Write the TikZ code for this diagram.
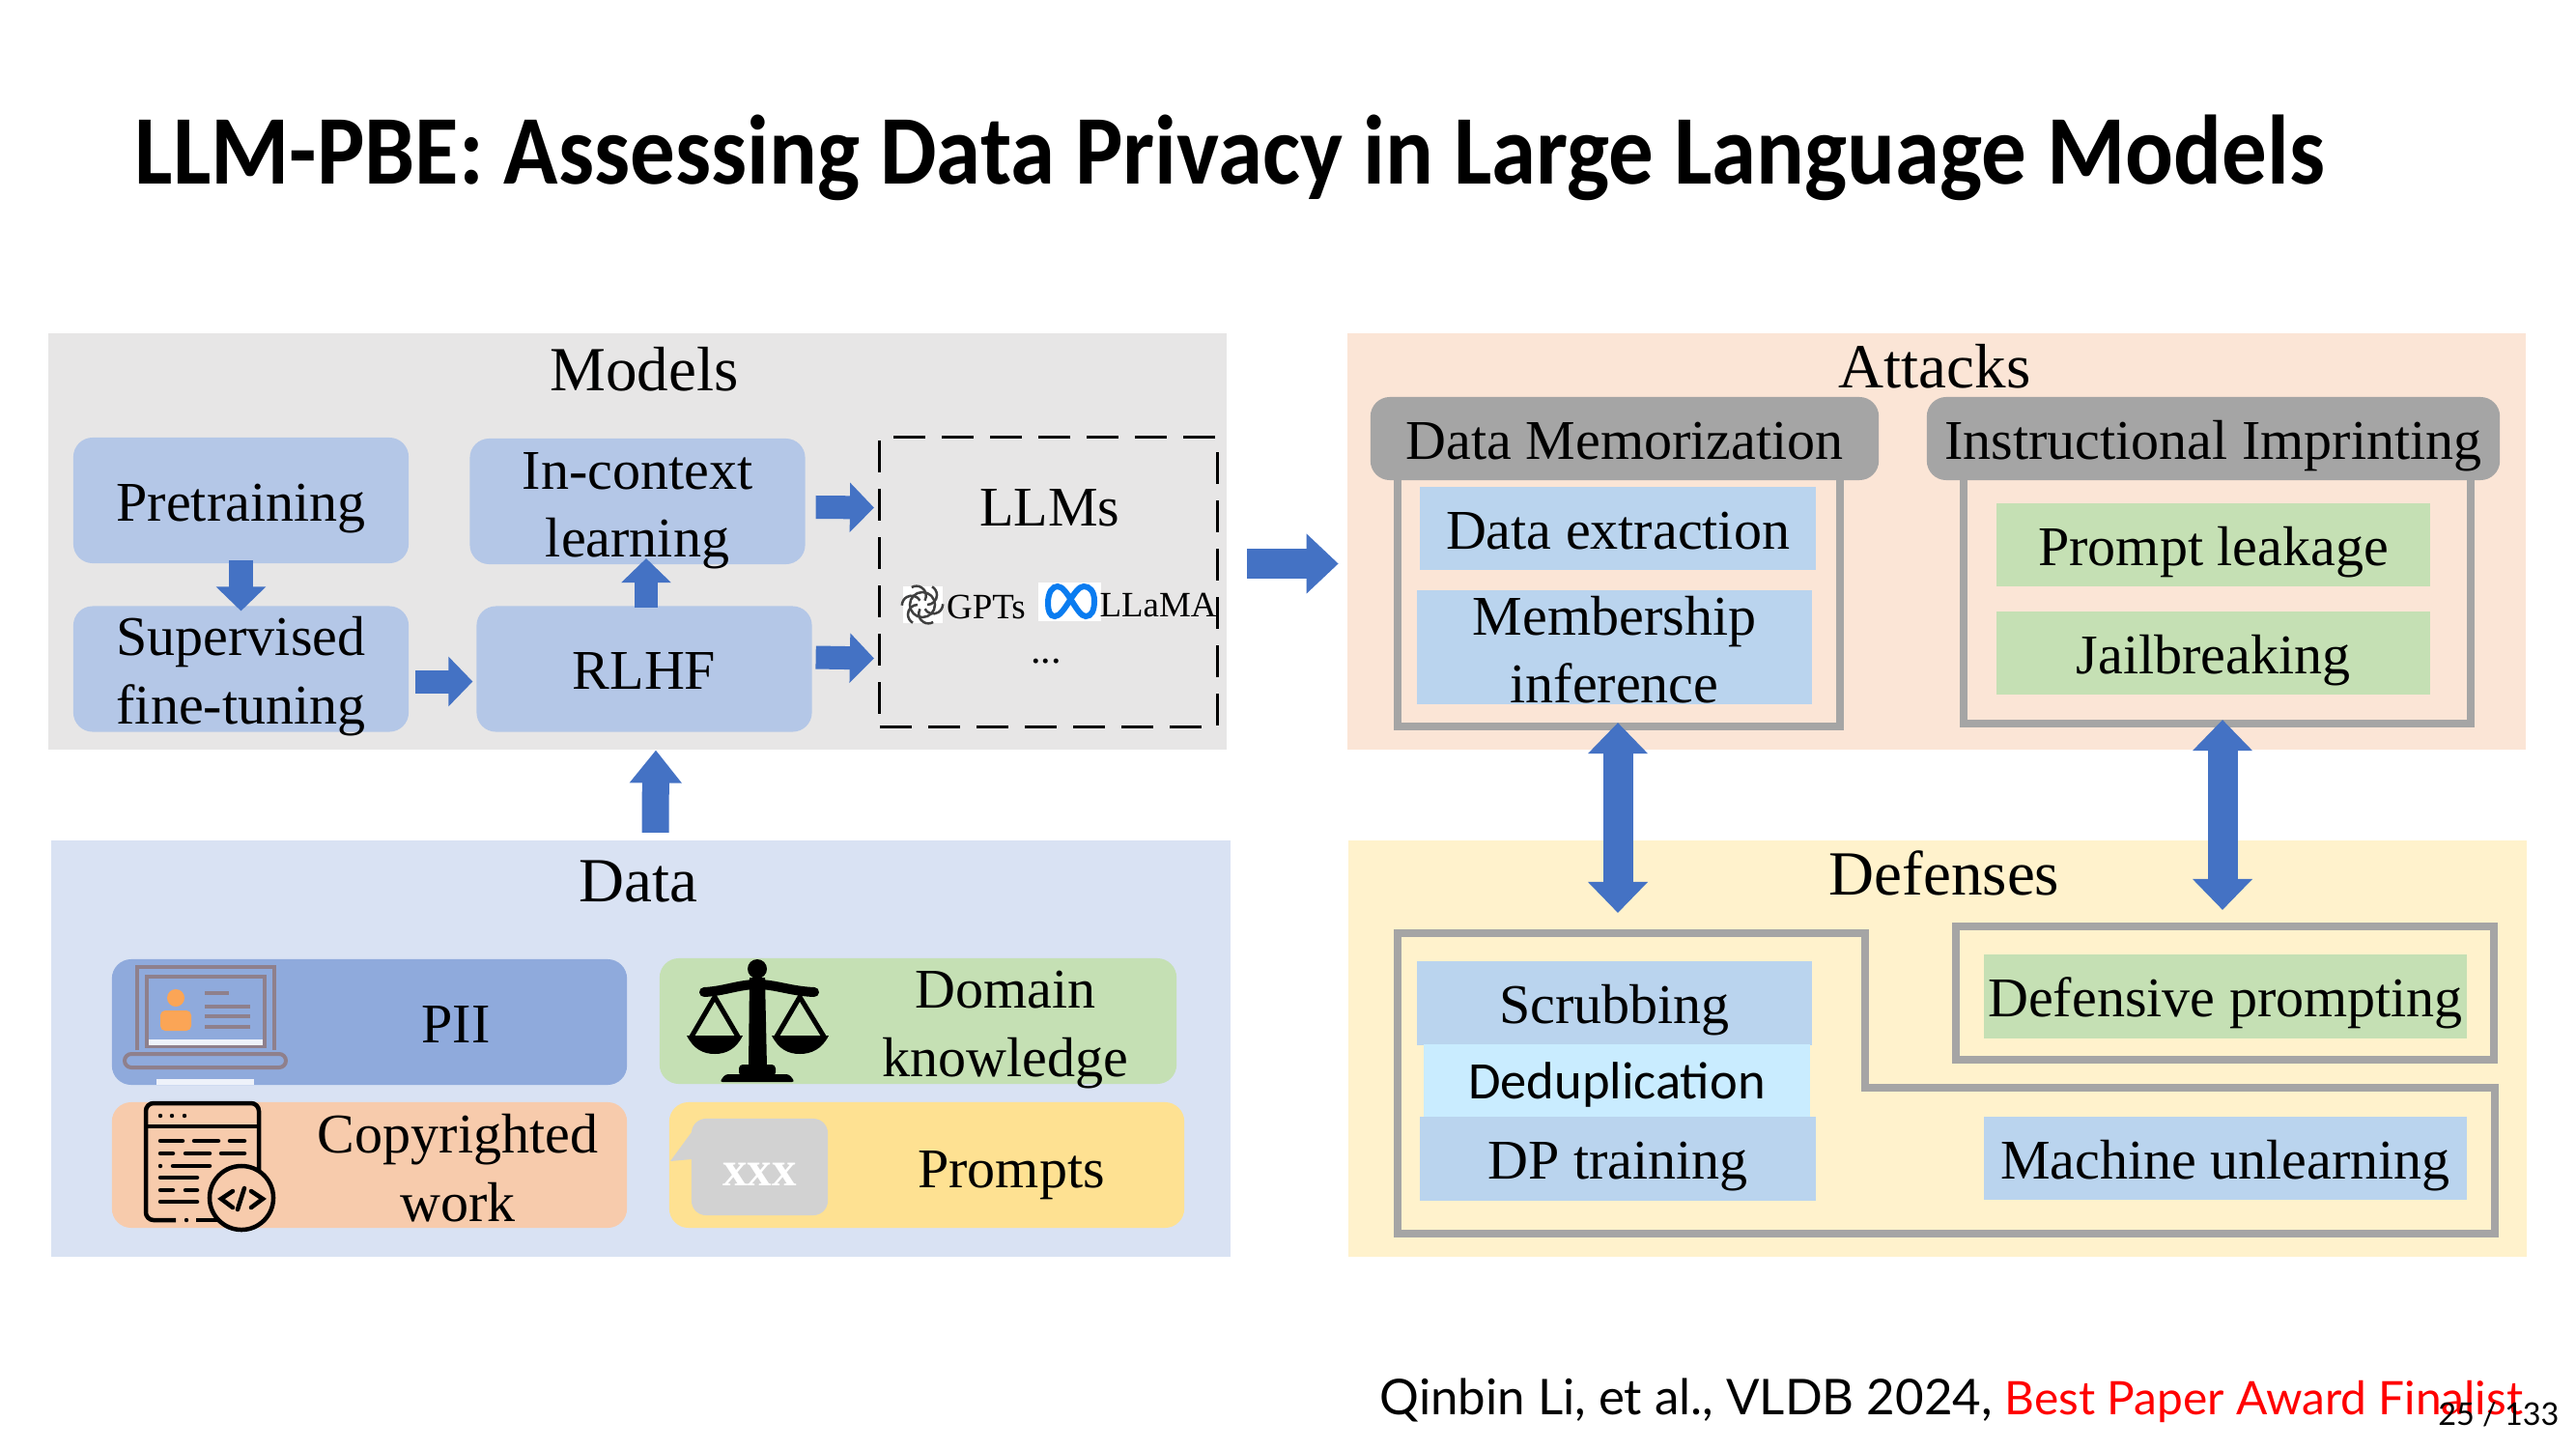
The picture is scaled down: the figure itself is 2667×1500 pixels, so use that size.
\documentclass[tikz,border=0pt]{standalone}
\usepackage{fontspec}
\setmainfont{Liberation Serif}
\newfontfamily\titlefont{Carlito}
\newfontfamily\footfont{Lato}
\newfontfamily\dedupfont{Carlito}
\usetikzlibrary{arrows.meta,positioning,calc}
\definecolor{modelsbg}{HTML}{E7E6E6}
\definecolor{databg}{HTML}{D9E2F3}
\definecolor{attacksbg}{HTML}{FBE5D6}
\definecolor{defensesbg}{HTML}{FFF2CC}
\definecolor{softblue}{HTML}{B4C7E7}
\definecolor{piiblue}{HTML}{8FAADC}
\definecolor{leafgreen}{HTML}{C5E0B4}
\definecolor{peach}{HTML}{F7CBAC}
\definecolor{honey}{HTML}{FEE192}
\definecolor{skyblue}{HTML}{BAD4EE}
\definecolor{paleblue}{HTML}{C9ECFF}
\definecolor{headgray}{HTML}{A5A5A5}
\definecolor{flowblue}{HTML}{4472C4}
\definecolor{lapgray}{HTML}{8F808C}
\definecolor{metablue}{HTML}{0A7CF0}

\begin{document}
\begin{tikzpicture}[
    x=0.01cm, y=-0.01cm,
    panel/.style={inner sep=0pt, outer sep=0pt, minimum width=12.2cm, minimum height=4.31cm},
    sectitle/.style={inner sep=0pt, font=\fontsize{18.5}{22}\selectfont},
    oneline/.style={text height=0.42cm, text depth=0pt},
    softbox/.style={fill=softblue, rounded corners=0.2cm, inner sep=0pt, outer sep=0pt, minimum width=3.47cm, minimum height=1.3cm, align=center, font=\fontsize{16.5}{20}\selectfont},
    databox/.style={rounded corners=0.2cm, inner sep=0pt, outer sep=0pt, minimum width=5.33cm, minimum height=1.3cm},
    datatext/.style={inner sep=0pt, align=center, font=\fontsize{16.5}{20}\selectfont},
    headbox/.style={fill=headgray, rounded corners=0.2cm, inner sep=0pt, outer sep=0pt, minimum height=0.86cm, oneline, font=\fontsize{16.5}{20}\selectfont},
    item/.style={inner sep=0pt, outer sep=0pt, minimum height=0.86cm, align=center, font=\fontsize{16.5}{20}\selectfont},
    frame/.style={draw=headgray, line width=0.08cm, inner sep=0pt, outer sep=0pt},
    flow/.style={draw=flowblue, line width=0.24cm, -{Triangle[length=0.25cm, width=0.5cm]}},
    bigflow/.style={draw=flowblue, line width=0.31cm, -{Triangle[length=0.33cm, width=0.6cm]}},
    bothflow/.style={draw=flowblue, line width=0.31cm, {Triangle[length=0.32cm, width=0.6cm]}-{Triangle[length=0.32cm, width=0.6cm]}},
    lapline/.style={draw=lapgray, line width=0.035cm},
    codeline/.style={draw=black, line width=0.045cm, line cap=round},
  ]
  \useasboundingbox (0,0) rectangle (2667,1500);

  % Title and footer
  \node[anchor=base west, inner sep=0pt, font=\titlefont\bfseries\fontsize{29}{33}\selectfont] (title) at (139,190)
    {\scalebox{0.912}[1]{LLM-PBE: Assessing Data Privacy in Large Language Models}};
  \node[anchor=base west, inner sep=0pt, font=\footfont\fontsize{14.5}{18}\selectfont] (cite) at (1428,1464)
    {Qinbin Li, et al., VLDB 2024, \textcolor{red}{\fontsize{13.6}{18}\selectfont Best Paper Award Finalist}};
  \node[anchor=base east, inner sep=0pt, font=\footfont\fontsize{9.2}{11}\selectfont] (pagenum) at (2650,1475) {25 / 133};

  % Panels
  \node[panel, fill=modelsbg]   (models)   at (660,560.5)  {};
  \node[panel, fill=databg]     (data)     at (663.5,1085.5) {};
  \node[panel, fill=attacksbg]  (attacks)  at (2005,560.5) {};
  \node[panel, fill=defensesbg] (defenses) at (2006,1085.5) {};
  \node[sectitle] (modelstitle)   at (667,382)  {Models};
  \node[sectitle] (datatitle)     at (661,913)  {Data};
  \node[sectitle] (attackstitle)  at (2003,379) {Attacks};
  \node[sectitle] (defensestitle) at (2013,904) {Defenses};

  % Models
  \node[softbox, oneline] (pretrain) at (249.5,518) {Pretraining};
  \node[softbox] (incontext) at (660,519)     {};
  \node[softbox] (superv)    at (249.5,692.5) {};
  \node[softbox, oneline] (rlhf) at (667,692.5) {RLHF};
  \node[datatext] (incontexttext) at (660,529)   {In-context\\learning};
  \node[datatext] (supervtext)    at (249.5,700) {Supervised\\fine-tuning};
  \node[draw, dashed, dash pattern=on 0.33cm off 0.17cm, line width=0.03cm, inner sep=0pt, outer sep=0pt, minimum width=3.49cm, minimum height=2.99cm] (llms) at (1085.5,602.5) {};
  \node[sectitle, font=\fontsize{16.5}{20}\selectfont] (llmstitle) at (1087,526) {LLMs};
  % logos
  \fill[white] (935,607) rectangle (976,645);
  \draw[black!75, line width=0.025cm] (955,626) circle (0.13cm);
  \foreach \a in {0,60,...,300}
    \draw[black!75, line width=0.025cm] (955,626) ++(\a:0.05cm) arc (\a-90:\a+60:0.1cm);
  \fill[white] (1075,603) rectangle (1140,643);
  \draw[metablue, line width=0.06cm] (1085,625) .. controls (1085,612) and (1090,607) .. (1095,607) .. controls (1105,607) and (1115,638) .. (1124,638) .. controls (1130,638) and (1133,632) .. (1133,622) .. controls (1133,612) and (1128,607) .. (1122,607) .. controls (1112,607) and (1102,638) .. (1092,638) .. controls (1087,638) and (1085,632) .. (1085,625) -- cycle;
  \node[inner sep=0pt, font=\fontsize{10.5}{12}\selectfont] (gpts)  at (1021,628) {GPTs};
  \node[inner sep=0pt, font=\fontsize{10.5}{12}\selectfont] (llama) at (1199,626) {LLaMA};
  \node[inner sep=0pt, font=\fontsize{12}{13}\selectfont]   (dots)  at (1083,685) {...};

  % Data
  \node[databox, fill=piiblue]   (pii)    at (382.5,1058)  {};
  \node[databox, fill=leafgreen, minimum width=5.35cm] (domain) at (950.5,1057) {};
  \node[databox, fill=peach]     (copyr)  at (382.5,1206)  {};
  \node[databox, fill=honey]     (prompts) at (959.5,1206) {};
  \node[datatext] (piitext)     at (472,1060)  {PII};
  \node[datatext] (domaintext)  at (1041,1066) {Domain\\knowledge};
  \node[datatext] (copyrtext)   at (474,1209)  {Copyrighted\\work};
  \node[datatext] (promptstext) at (1047,1217) {Prompts};

  % laptop
  \draw[lapline] (142,1087) -- (142,1001) -- (284,1001) -- (284,1087);
  \draw[lapline] (152,1011) rectangle (274,1083);
  \fill[white!85!piiblue] (154,1076) rectangle (272,1082);
  \fill[orange!50!peach] (182,1033) circle (0.09cm);
  \fill[orange!50!peach, rounded corners=0.05cm] (166,1067) -- (166,1046) -- (198,1046) -- (198,1067) -- cycle;
  \draw[lapline] (212,1028) -- (237,1028) (212,1042) -- (259,1042) (212,1052) -- (259,1052) (212,1063) -- (259,1063);
  \draw[lapline, line width=0.04cm, rounded corners=0.07cm] (129,1091) rectangle (296,1105);
  \fill[white!85!piiblue] (162,1117) rectangle (263,1123);

  % scales
  \fill (784,1003) circle (0.1cm);
  \fill (776,1012) -- (792,1012) -- (794,1105) -- (775,1105) -- cycle;
  \draw[line width=0.1cm, line cap=round] (729,1027) .. controls (750,1026) and (765,1019) .. (784,1019) .. controls (803,1019) and (818,1026) .. (843,1027);
  \draw[line width=0.05cm] (716,1073) -- (740,1032) -- (764,1073);
  \draw[line width=0.05cm] (804,1073) -- (828,1032) -- (853,1073);
  \fill (711,1072) .. controls (718,1086) and (728,1091) .. (740,1091) .. controls (752,1091) and (762,1086) .. (769,1072) -- cycle;
  \fill (799,1072) .. controls (806,1086) and (816,1091) .. (828,1091) .. controls (840,1091) and (851,1086) .. (858,1072) -- cycle;
  \fill[rounded corners=0.04cm] (765,1114) -- (765,1102) -- (803,1102) -- (803,1114) -- cycle;
  \fill[rounded corners=0.03cm] (745,1120) -- (751,1112) -- (817,1112) -- (823,1120) -- cycle;

  % code window
  \draw[line width=0.045cm, rounded corners=0.08cm] (182,1263) -- (151,1263) -- (151,1142) -- (268,1142) -- (268,1225);
  \draw[line width=0.045cm] (203,1263) -- (228,1263) (151,1166) -- (268,1166);
  \foreach \px in {166,178,191} \fill (\px,1155) circle (0.022cm);
  \fill (193,1263) circle (0.022cm);
  \draw[codeline] (166,1181) -- (189,1181) (201,1181) -- (226,1181) (238,1181) -- (253,1181);
  \draw[codeline] (166,1194) -- (179,1194) (192,1194) -- (217,1194) (229,1194) -- (253,1194);
  \draw[codeline] (179,1207) -- (217,1207) (166,1219) -- (204,1219);
  \draw[codeline] (166,1232) -- (179,1232) (192,1232) -- (204,1232) (166,1244) -- (204,1244);
  \fill (166,1207) circle (0.022cm);
  \draw[line width=0.045cm, fill=peach] (250,1240) circle (0.33cm);
  \draw[codeline] (241,1233) -- (229,1241) -- (241,1250) (253,1230) -- (246,1252) (260,1233) -- (272,1241) -- (260,1250);

  % speech bubble
  \fill[gray!35] (716,1172) -- (694,1202) -- (716,1200) -- cycle;
  \node[fill=gray!35, rounded corners=0.15cm, inner sep=0pt, minimum width=1.41cm, minimum height=1cm, text=white, text height=0.38cm, text depth=0pt, font=\bfseries\fontsize{14.5}{16}\selectfont] (bubble) at (786.5,1208) {xxx};

  % Attacks
  \node[frame, minimum width=4.58cm, minimum height=3.02cm] (memframe) at (1676,601) {};
  \node[frame, minimum width=5.25cm, minimum height=3cm] (instframe) at (2295.5,599) {};
  \node[headbox, minimum width=5.26cm]  (memhead)  at (1682,454)   {Data Memorization};
  \node[headbox, minimum width=5.93cm]  (insthead) at (2291.5,454) {Instructional Imprinting};
  \node[item, oneline, fill=skyblue, minimum width=4.1cm]   (dataext)  at (1675,547)   {Data extraction};
  \node[item, fill=skyblue, minimum width=4.09cm, minimum height=1.18cm] (member) at (1671.5,670) {\rule{0pt}{13pt}Membership\\inference};
  \node[item, oneline, fill=leafgreen, minimum width=4.49cm] (leakage) at (2291.5,564) {Prompt leakage};
  \node[item, oneline, fill=leafgreen, minimum width=4.49cm] (jail)    at (2291.5,676) {Jailbreaking};

  % Defenses
  \draw[draw=headgray, line width=0.08cm] (1447,966) -- (1931,966) -- (1931,1126) -- (2583,1126) -- (2583,1277) -- (1447,1277) -- cycle;
  \coordinate (sharedtop) at (1675,966);
  \node[frame, minimum width=5.57cm, minimum height=1.38cm] (promptframe) at (2303.5,1028) {};
  \node[item, oneline, fill=skyblue, minimum width=4.09cm] (scrub) at (1671.5,1038.5) {Scrubbing};
  \node[item, fill=paleblue, minimum width=4cm, minimum height=0.76cm, text height=0.36cm, text depth=0pt, font=\dedupfont\fontsize{15.5}{18}\selectfont] (dedup) at (1674,1119) {Deduplication};
  \node[item, oneline, fill=skyblue, minimum width=4.1cm]  (dptrain) at (1675,1199.5) {DP training};
  \node[item, oneline, fill=skyblue, minimum width=5cm]    (unlearn) at (2304,1199)   {Machine unlearning};
  \node[item, oneline, fill=leafgreen, minimum width=5cm]  (defprompt) at (2304,1031.5) {Defensive prompting};

  % Arrows
  \draw[flow] ($(pretrain.south)+(0,-3)$) -- ($(superv.north)+(0,5)$);
  \draw[flow] ($(superv.east)+(7,13)$) -- ($(rlhf.west)+(-4,13)$);
  \draw[flow] ($(rlhf.north)+(2,2)$) -- ($(incontext.south)+(9,-6)$);
  \draw[flow] ($(incontext.east)+(11,6)$) -- ($(llms.west)+(-6,-77)$);
  \draw[flow] ($(rlhf.east)+(4,-12)$) -- ($(llms.west)+(-6,79)$);
  \draw[bigflow] ($(models.east)+(21,23)$) -- ($(attacks.west)+(-9,23)$);
  \draw[flow, line width=0.28cm, -{Triangle[length=0.34cm, width=0.52cm]}] ($(data.north)+(15,-8)$) -- ($(rlhf.south)+(12,19)$);
  \draw[bothflow] ($(memframe.south)+(-1,-4)$) -- ($(sharedtop)+(0,-21)$);
  \draw[bothflow] ($(instframe.south)+(5.5,-4)$) -- ($(promptframe.north)+(-2.5,-17)$);
\end{tikzpicture}
\end{document}
